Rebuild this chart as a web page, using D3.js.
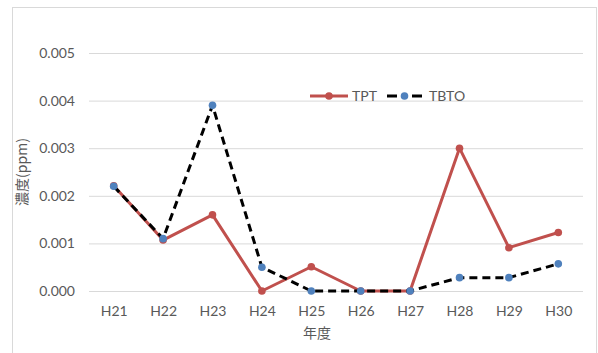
<!DOCTYPE html>
<html>
<head>
<meta charset="utf-8">
<script src="https://cdn.jsdelivr.net/npm/d3@7"></script>
<style>
  html, body { margin: 0; padding: 0; background: #fff; }
  svg { display: block; font-family: Lato, "Noto Sans", sans-serif; }
</style>
</head>
<body>
<svg id="chart" width="598" height="353"></svg>
<script>
// Fiscal years and measured concentrations (ppm)
const years = ["H21", "H22", "H23", "H24", "H25", "H26", "H27", "H28", "H29", "H30"];
const tptValues = [0.00221, 0.00107, 0.0016, 0.0, 0.00051, 0.0, 0.0, 0.003, 0.00091, 0.00123];
const tbtoValues = [0.0022, 0.0011, 0.0039, 0.0005, 0.0, 0.0, 0.0, 0.00028, 0.00028, 0.00057];
const yTicks = [0, 0.001, 0.002, 0.003, 0.004, 0.005];

const series = [
  { name: "TPT", values: tptValues, stroke: "#C0504D", marker: "#C0504D", dash: null, legendDash: null },
  { name: "TBTO", values: tbtoValues, stroke: "#000000", marker: "#4F81BD", dash: "8,5", legendDash: "10,15,10" }
];

const svg = d3.select("#chart");
const textColor = "#595959";
const gridColor = "#D9D9D9";

// Outer chart frame
svg.append("rect")
  .attr("x", 12.5).attr("y", 7.5)
  .attr("width", 584).attr("height", 360)
  .attr("fill", "none").attr("stroke", gridColor).attr("stroke-width", 1);

const plot = { left: 89, right: 583, top: 53, bottom: 291 };

const x = d3.scalePoint()
  .domain(years)
  .range([plot.left, plot.right])
  .padding(0.5);

const y = d3.scaleLinear()
  .domain([0, 0.005])
  .range([plot.bottom, plot.top]);

// Horizontal gridlines and y tick labels
const yAxis = d3.axisLeft(y)
  .tickValues(yTicks)
  .tickFormat(d3.format(".3f"))
  .tickSize(-(plot.right - plot.left))
  .tickPadding(14);

const gy = svg.append("g")
  .attr("transform", `translate(${plot.left},0)`)
  .call(yAxis);
gy.select(".domain").remove();
gy.selectAll(".tick line").attr("stroke", gridColor).attr("stroke-width", 1);
gy.selectAll(".tick text")
  .attr("fill", textColor)
  .attr("font-size", 14)
  .attr("font-family", "Lato, 'Noto Sans', sans-serif");

// Category labels along the bottom
const xAxis = d3.axisBottom(x).tickSize(0).tickPadding(15);
const gx = svg.append("g")
  .attr("transform", `translate(0,${plot.bottom})`)
  .call(xAxis);
gx.select(".domain").remove();
gx.selectAll(".tick text")
  .attr("fill", textColor)
  .attr("font-size", 14)
  .attr("font-family", "Lato, 'Noto Sans', sans-serif");

// Axis titles
svg.append("text")
  .attr("x", 317).attr("y", 338)
  .attr("text-anchor", "middle")
  .attr("fill", textColor)
  .attr("font-size", 14)
  .attr("font-family", "'Noto Sans CJK JP', sans-serif")
  .text("年度");

svg.append("text")
  .attr("transform", `translate(27,${(plot.top + plot.bottom) / 2}) rotate(-90)`)
  .attr("text-anchor", "middle")
  .attr("fill", textColor)
  .attr("font-size", 14)
  .attr("font-family", "'Noto Sans CJK JP', sans-serif")
  .text("濃度(ppm)");

// Lines and markers
const line = d3.line()
  .x((d, i) => x(years[i]))
  .y(d => y(d));

series.forEach(s => {
  const g = svg.append("g");
  g.append("path")
    .datum(s.values)
    .attr("d", line)
    .attr("fill", "none")
    .attr("stroke", s.stroke)
    .attr("stroke-width", 3)
    .attr("stroke-linejoin", "round")
    .attr("stroke-dasharray", s.dash);
  g.selectAll("circle")
    .data(s.values)
    .join("circle")
    .attr("cx", (d, i) => x(years[i]))
    .attr("cy", d => y(d))
    .attr("r", 3.8)
    .attr("fill", s.marker);
});

// Legend
const legendY = 96;
const legendItems = [
  { s: series[0], x0: 310, x1: 348, tx: 352 },
  { s: series[1], x0: 387, x1: 422, tx: 429 }
];
legendItems.forEach(item => {
  const g = svg.append("g");
  g.append("line")
    .attr("x1", item.x0).attr("x2", item.x1)
    .attr("y1", legendY).attr("y2", legendY)
    .attr("stroke", item.s.stroke)
    .attr("stroke-width", 3)
    .attr("stroke-dasharray", item.s.legendDash);
  g.append("circle")
    .attr("cx", (item.x0 + item.x1) / 2)
    .attr("cy", legendY)
    .attr("r", 3.8)
    .attr("fill", item.s.marker);
  g.append("text")
    .attr("x", item.tx).attr("y", legendY + 5)
    .attr("fill", textColor)
    .attr("font-size", 14)
    .attr("font-family", "Lato, 'Noto Sans', sans-serif")
    .text(item.s.name);
});
</script>
</body>
</html>
